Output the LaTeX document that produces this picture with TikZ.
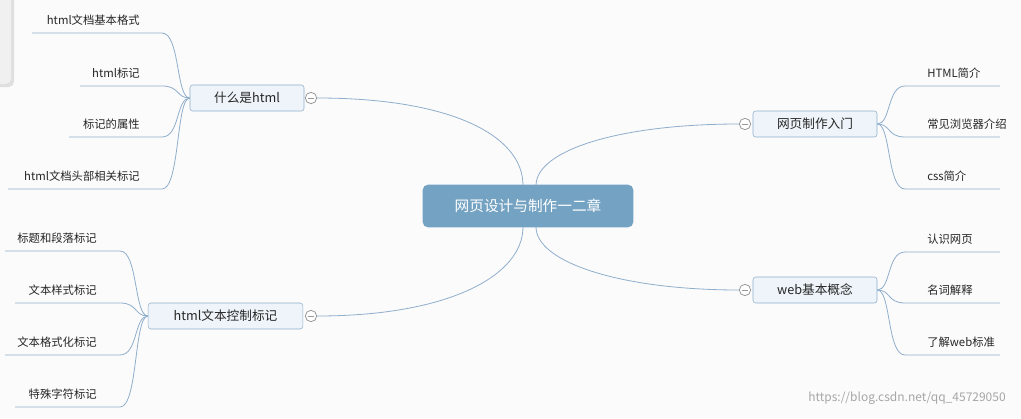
\documentclass[tikz,border=0pt]{standalone}
\usepackage{fontspec}
\setmainfont{Noto Sans CJK SC}
\definecolor{ln}{HTML}{8FAECB}
\definecolor{bx}{HTML}{EEF4F9}
\definecolor{cen}{HTML}{74A2C2}
\definecolor{bg}{HTML}{FBFBFC}
\begin{document}
\begin{tikzpicture}[x=0.75pt,y=-0.75pt,
  br/.style={draw=ln,fill=bx,rounded corners=2pt,minimum height=19.5pt,inner xsep=0pt,font=\fontsize{9.5}{11}\selectfont,text=black!85},
  lf/.style={font=\fontsize{8.5}{10}\selectfont,text=black!85,inner sep=0pt,anchor=base east},
  rf/.style={font=\fontsize{8.5}{10}\selectfont,text=black!85,inner sep=0pt,anchor=base west},
  conn/.style={draw=ln,line width=0.6pt},
  mc/.style={circle,draw=gray!80,fill=white,minimum size=8.5pt,inner sep=0pt,line width=0.6pt,
    path picture={\draw[gray!80,line width=0.6pt] ([xshift=-2.5pt]path picture bounding box.center)--([xshift=2.5pt]path picture bounding box.center);}}]
\fill[bg] (0,0) rectangle (1021,418);
\useasboundingbox (0,0) rectangle (1021,418);
% grey corner shape
\fill[gray!25,rounded corners=4pt] (-10,-5) rectangle (14,87);
\fill[gray!12,rounded corners=4pt] (-10,-5) rectangle (11,84);
% central
\node[fill=cen,rounded corners=4pt,minimum width=158pt,minimum height=32pt,text=white,font=\fontsize{11}{13}\selectfont] (c) at (528,206) {网页设计与制作一二章};
\coordinate (ctl) at (523,185.5); \coordinate (ctr) at (536,185.5);
\coordinate (cbl) at (523,227); \coordinate (cbr) at (536,227);
% branches
\node[br,minimum width=85.5pt] (b1) at (247,98) {什么是html};
\node[br,minimum width=93pt] (b2) at (815,124) {网页制作入门};
\node[br,minimum width=116pt] (b3) at (225.5,316) {html文本控制标记};
\node[br,minimum width=93pt] (b4) at (815,290) {web基本概念};
\node[mc] (m1) at (311,98) {};
\node[mc] (m2) at (745,124) {};
\node[mc] (m3) at (311,316) {};
\node[mc] (m4) at (745,290) {};
\draw[conn] (m1.east) .. controls (450,98) and (523,135) .. (ctl);
\draw[conn] (m2.west) .. controls (620,124) and (536,150) .. (ctr);
\draw[conn] (m3.east) .. controls (450,316) and (523,275) .. (cbl);
\draw[conn] (m4.west) .. controls (620,290) and (536,262) .. (cbr);
% left leaves of b1
\foreach \y/\x/\t [count=\i] in {33/32/html文档基本格式,86/80/html标记,137/69/标记的属性,189/8/html文档头部相关标记}{
  \coordinate (a\i) at (162,\y);
  \coordinate (s\i) at (\x,\y);
  \node[lf] (t\i) at (140,\y-9) {\t};
  \draw[conn] (s\i) -- (a\i) .. controls (180,\y) and (176,98) .. (b1.west);
}
% left leaves of b3
\foreach \y/\x/\t [count=\i] in {251/5/标题和段落标记,303/15/文本样式标记,355/5/文本格式化标记,407/15/特殊字符标记}{
  \coordinate (d\i) at (120,\y);
  \coordinate (e\i) at (\x,\y);
  \node[lf] (u\i) at (97,\y-9) {\t};
  \draw[conn] (e\i) -- (d\i) .. controls (138,\y) and (134,316) .. (b3.west);
}
% right leaves of b2
\foreach \y/\t [count=\i] in {86/HTML简介,137/常见浏览器介绍,189/css简介}{
  \coordinate (f\i) at (905,\y);
  \coordinate (g\i) at (1000,\y);
  \node[rf] (v\i) at (927,\y-9) {\t};
  \draw[conn] (g\i) -- (f\i) .. controls (887,\y) and (891,124) .. (b2.east);
}
% right leaves of b4
\foreach \y/\t [count=\i] in {252/认识网页,303/名词解释,355/了解web标准}{
  \coordinate (h\i) at (905,\y);
  \coordinate (k\i) at (1000,\y);
  \node[rf] (w\i) at (927,\y-9) {\t};
  \draw[conn] (k\i) -- (h\i) .. controls (887,\y) and (891,290) .. (b4.east);
}
\node[font=\fontsize{9}{10}\selectfont,text=gray!70,inner sep=0pt] (wm) at (907,398) {https://blog.csdn.net/qq\_45729050};
\end{tikzpicture}
\end{document}
